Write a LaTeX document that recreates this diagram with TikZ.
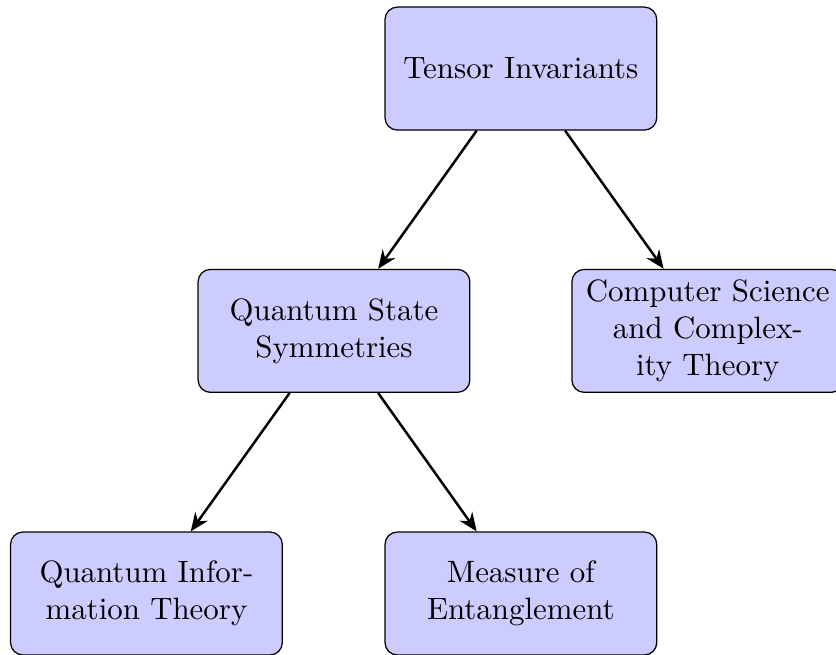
\documentclass[tikz,border=0pt]{standalone}
\usetikzlibrary{arrows.meta}
\begin{document}
\begin{tikzpicture}[x=1pt,y=1pt,
  topicbox/.style={draw=black, fill=blue!20, rounded corners=4pt, line width=0.4pt,
    text width=81.3pt, inner xsep=3.33pt, minimum height=39.8pt, align=center},
  link/.style={-{Stealth[length=6pt,width=5pt,inset=2pt]}, line width=0.8pt}]
\useasboundingbox (0,0) rectangle (270.6,-212.0);
\node[topicbox] (ti) at (168.6,-22.2) {Tensor Invariants};
\node[topicbox] (qss) at (108.1,-107.1) {Quantum State\\Symmetries};
\node[topicbox] (cs) at (229.1,-107.1) {Computer Science\\and Complex-\\ity Theory};
\node[topicbox] (qit) at (47.4,-192.1) {Quantum Infor-\\mation Theory};
\node[topicbox] (me) at (168.6,-192.1) {Measure of\\Entanglement};
\draw[link] (ti) -- (qss);
\draw[link] (ti) -- (cs);
\draw[link] (qss) -- (qit);
\draw[link] (qss) -- (me);
\end{tikzpicture}
\end{document}
